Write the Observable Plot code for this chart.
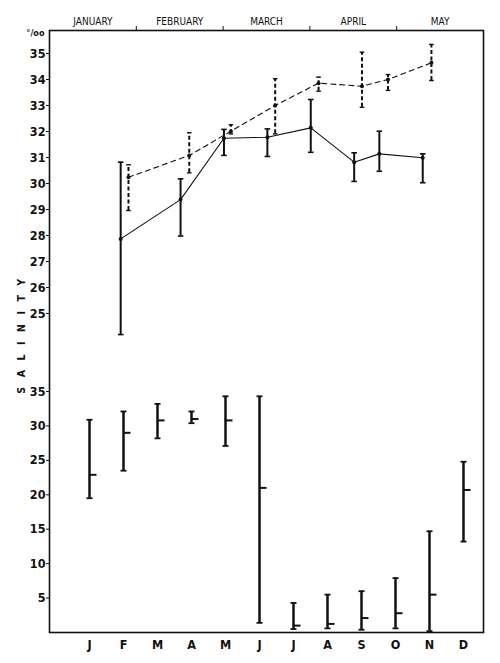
<!DOCTYPE html>
<html><head><meta charset="utf-8">
<script src="https://cdn.jsdelivr.net/npm/d3@7"></script>
<script src="https://cdn.jsdelivr.net/npm/@observablehq/plot@0.6"></script>
<style>
body{margin:0;background:#fff}
#wrap{position:relative;width:500px;height:663px}
#wrap svg{position:absolute;left:0;top:0}
</style></head><body><div id="wrap"></div>
<script>
// ---- top panel (months since 1 January, salinity ‰) ----
const topMonths = ["JANUARY","FEBRUARY","MARCH","APRIL","MAY"];
const monthCenters = [0.5,1.5,2.5,3.5,4.5];
const monthBounds = [1,2,3,4];
const topTicks = [25,26,27,28,29,30,31,32,33,34,35];

const solidX    = [0.82,1.51,2.01,2.51,3.01,3.51,3.80,4.30];
const solidMean = [27.87,29.38,31.74,31.78,32.14,30.82,31.14,30.99];
const solidLow  = [24.19,27.98,31.08,31.04,31.20,30.08,30.47,30.03];
const solidHigh = [30.82,30.18,32.08,32.10,33.23,31.18,32.01,31.14];

const dashX    = [0.91,1.61,2.09,2.60,3.10,3.60,3.90,4.40];
const dashMean = [30.24,31.08,32.01,33.00,33.86,33.74,34.00,34.64];
const dashLow  = [28.96,30.41,31.91,31.91,33.55,32.93,33.58,33.96];
const dashHigh = [30.72,31.95,32.26,34.03,34.09,35.05,34.19,35.35];

// ---- bottom panel (monthly range and mean) ----
const monthLetters = ["J","F","M","A","M","J","J","A","S","O","N","D"];
const bottomTicks = [5,10,15,20,25,30,35];
const bMean = [22.9,29.0,30.8,31.0,30.8,21.0,1.0,1.25,2.1,2.8,5.5,20.7];
const bLow  = [19.5,23.5,28.2,30.4,27.1,1.4,0.5,0.6,0.4,0.6,0.2,13.2];
const bHigh = [30.9,32.1,33.2,32.1,34.3,34.3,4.3,5.5,6.0,7.9,14.7,24.8];

const solid = solidX.map((x,i)=>({x, mean:solidMean[i], low:solidLow[i], high:solidHigh[i]}));
const dashed = dashX.map((x,i)=>({x, mean:dashMean[i], low:dashLow[i], high:dashHigh[i]}));
const monthly = monthLetters.map((m,i)=>({m:i, mean:bMean[i], low:bLow[i], high:bHigh[i]}));

const cap = {draw(ctx,size){const r=Math.sqrt(size/Math.PI); ctx.moveTo(-r,0); ctx.lineTo(r,0);}};
const rightTick = {draw(ctx,size){const r=Math.sqrt(size/Math.PI); ctx.moveTo(0,0); ctx.lineTo(r,0);}};

const font = '"DejaVu Sans Condensed", "Liberation Sans Narrow", sans-serif';
const common = {
  width: 500, height: 663,
  marginTop: 30, marginBottom: 31, marginLeft: 49, marginRight: 17,
  style: {fontFamily: font, fontSize: "12.5px", fontWeight: "bold", background: "transparent", color: "#111"}
};

const topChart = Plot.plot({
  ...common,
  x: {type: "linear", domain: [0,5]},
  y: {domain: [25,35], range: [313,53]},
  marks: [
    Plot.frame({stroke: "#111", strokeWidth: 1.6}),
    Plot.axisX({anchor: "top", ticks: monthBounds, tickSize: 5, tickFormat: () => "", label: null}),
    Plot.axisX({anchor: "top", ticks: monthCenters, tickSize: 0, tickPadding: 6, label: null,
      tickFormat: (d) => topMonths[Math.floor(d)], fontSize: 10, fontWeight: "normal"}),
    Plot.axisY({anchor: "left", ticks: topTicks, tickSize: 3, tickPadding: 1, label: null, tickFormat: d => d}),
    Plot.text(["°/oo"], {frameAnchor: "top-left", dx: -5, dy: -1, textAnchor: "end", fontSize: 9}),
    Plot.text(["SALINITY"], {frameAnchor: "left", dx: -28, dy: 0, rotate: -90, textAnchor: "middle",
      fontSize: 10.5, fontWeight: "bold"}),
    // dashed series
    Plot.ruleX(dashed, {x: "x", y1: "low", y2: "high", stroke: "#111", strokeWidth: 2, strokeDasharray: "4,2.5"}),
    Plot.dot(dashed, {x: "x", y: "low", symbol: cap, r: 2.3, stroke: "#111", strokeWidth: 1.4}),
    Plot.dot(dashed, {x: "x", y: "high", symbol: cap, r: 2.3, stroke: "#111", strokeWidth: 1.4}),
    Plot.line(dashed, {x: "x", y: "mean", stroke: "#111", strokeWidth: 1.1, strokeDasharray: "5,4"}),
    Plot.dot(dashed, {x: "x", y: "mean", r: 2, fill: "#111"}),
    // solid series
    Plot.ruleX(solid, {x: "x", y1: "low", y2: "high", stroke: "#111", strokeWidth: 2}),
    Plot.dot(solid, {x: "x", y: "low", symbol: cap, r: 2.8, stroke: "#111", strokeWidth: 1.6}),
    Plot.dot(solid, {x: "x", y: "high", symbol: cap, r: 2.8, stroke: "#111", strokeWidth: 1.6}),
    Plot.line(solid, {x: "x", y: "mean", stroke: "#111", strokeWidth: 1.1}),
    Plot.dot(solid, {x: "x", y: "mean", r: 2, fill: "#111"})
  ]
});

// letter-spaced vertical axis title
d3.select(topChart).selectAll("text")
  .filter(function(){ return this.textContent === "SALINITY"; })
  .style("letter-spacing", "9.5px");

const bottomChart = Plot.plot({
  ...common,
  x: {type: "point", domain: monthLetters.map((m,i)=>i), range: [84,467], padding: 0},
  y: {domain: [0,35], range: [632,391]},
  marks: [
    Plot.axisY({anchor: "left", ticks: bottomTicks, tickSize: 3, tickPadding: 1, label: null, tickFormat: d => d}),
    Plot.axisX({anchor: "bottom", tickSize: 0, tickPadding: 8, label: null, tickFormat: i => monthLetters[i]}),
    Plot.ruleX(monthly, {x: "m", y1: "low", y2: "high", stroke: "#111", strokeWidth: 2.5}),
    Plot.dot(monthly, {x: "m", y: "low", symbol: cap, r: 3, stroke: "#111", strokeWidth: 1.8}),
    Plot.dot(monthly, {x: "m", y: "high", symbol: cap, r: 3, stroke: "#111", strokeWidth: 1.8}),
    Plot.dot(monthly, {x: "m", y: "mean", symbol: rightTick, r: 7, stroke: "#111", strokeWidth: 2})
  ]
});

const wrap = document.getElementById("wrap");
wrap.append(topChart, bottomChart);
</script></body></html>
